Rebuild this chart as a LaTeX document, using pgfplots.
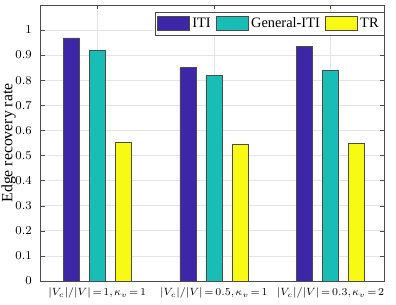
\documentclass[border=0pt]{standalone}
\usepackage{pgfplots}
\pgfplotsset{compat=1.18}
\usepackage{fontspec}
\setmainfont{Liberation Serif}
\definecolor{cITI}{RGB}{62,38,168}
\definecolor{cGen}{RGB}{24,190,181}
\definecolor{cTR}{RGB}{249,250,20}
\newcommand{\tight}{\thickmuskip=2.5mu\thinmuskip=1.5mu\medmuskip=2mu}
\begin{document}
\begin{tikzpicture}
\path[use as bounding box] (-26.7pt,-16pt) rectangle (237.3pt,187.3pt);
\begin{axis}[
  at={(0,0)}, anchor=south west,
  scale only axis,
  width=229.4pt, height=184pt,
  xmin=0.51, xmax=3.46,
  ymin=0, ymax=1.1,
  xtick={1,2,3},
  xticklabels={{$\tight|V_c|/|V|=1,\kappa_v=1$},{$\tight|V_c|/|V|=0.5,\kappa_v=1$},{$\tight|V_c|/|V|=0.3,\kappa_v=2$}},
  ytick={0,0.1,...,1.0},
  yticklabel style={/pgf/number format/fixed,/pgf/number format/precision=1, font=\fontsize{8.5}{10}\selectfont, xshift=-2pt},
  xticklabel style={font=\fontsize{7.3}{8}\selectfont, yshift=-1pt},
  tick align=inside,
  xtick pos=both, ytick pos=both,
  major tick length=3pt,
  grid=major,
  major grid style={black!10, line width=0.4pt},
  axis line style={black!70},
  tick style={black!70},
  ylabel={Edge recovery rate},
  ylabel style={font=\fontsize{10.5}{12}\selectfont, at={(axis description cs:0,0.5)}, anchor=center, yshift=21pt},
  legend columns=3,
  legend style={at={(1,0.975)}, anchor=north east, draw=black!70, font=\fontsize{9.6}{11}\selectfont,
    /tikz/every even column/.append style={column sep=1.5pt}, inner sep=1.5pt},
  legend image code/.code={\draw[#1] (0pt,-4.6pt) rectangle (21pt,4.6pt);},
]
\addplot[ybar, bar width=0.137, bar shift=-0.223, fill=cITI, draw=black!70] coordinates {(1,0.969) (2,0.851) (3,0.934)};
\addplot[ybar, bar width=0.137, bar shift=0, fill=cGen, draw=black!70] coordinates {(1,0.918) (2,0.819) (3,0.838)};
\addplot[ybar, bar width=0.137, bar shift=0.223, fill=cTR, draw=black!70] coordinates {(1,0.551) (2,0.543) (3,0.549)};
\legend{ITI,General-ITI,TR}
\end{axis}
\end{tikzpicture}
\end{document}
